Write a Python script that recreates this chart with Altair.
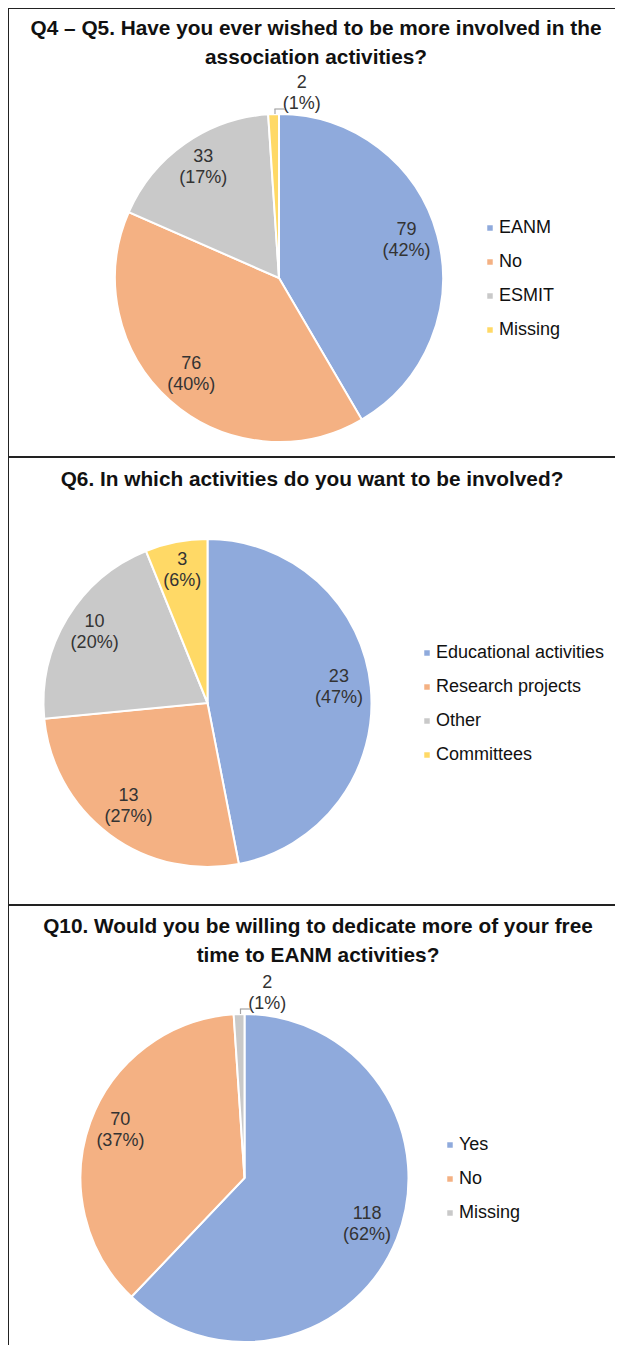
import altair as alt
import pandas as pd

# ---- data ----
titles = [
    ["Q4 – Q5. Have you ever wished to be more involved in the", "association activities?"],
    ["Q6. In which activities do you want to be involved?"],
    ["Q10. Would you be willing to dedicate more of your free", "time to EANM activities?"],
]
cats1 = ["EANM", "No", "ESMIT", "Missing"]
vals1 = [79, 76, 33, 2]
cats2 = ["Educational activities", "Research projects", "Other", "Committees"]
vals2 = [23, 13, 10, 3]
cats3 = ["Yes", "No", "Missing"]
vals3 = [118, 70, 2]

colors1 = ["#8FAADC", "#F4B183", "#C9C9C9", "#FFD966"]
colors2 = ["#8FAADC", "#F4B183", "#C9C9C9", "#FFD966"]
colors3 = ["#8FAADC", "#F4B183", "#C9C9C9"]

FONT = "Liberation Sans"
W = 607
H = 1337
R = 164
PANEL_TOPS = [0, 449, 897]


def pie(cats, vals, colors, cx, cy, lx, ly, key):
    total = sum(vals)
    pct = [round(v / total * 100) for v in vals]
    df = pd.DataFrame({
        key: cats,
        "val": vals,
        "idx": list(range(len(cats))),
        "label": [f"{v}\n({p}%)" for v, p in zip(vals, pct)],
        "small": [v / total < 0.03 for v in vals],
    })
    base = alt.Chart(df).encode(
        theta=alt.Theta("val:Q", stack=True),
        order=alt.Order("idx:Q"),
        x=alt.value(cx),
        y=alt.value(cy),
    )
    arcs = base.mark_arc(outerRadius=R, stroke="white", strokeWidth=2).encode(
        color=alt.Color(
            f"{key}:N",
            sort=cats,
            scale=alt.Scale(domain=cats, range=colors),
            legend=alt.Legend(
                title=None,
                orient="none",
                legendX=lx,
                legendY=ly,
                symbolType="square",
                symbolSize=30,
                symbolStrokeWidth=0,
                labelFont=FONT,
                labelFontSize=18,
                labelColor="#111",
                labelOffset=0,
                labelLimit=400,
                rowPadding=16,
                padding=0,
            ),
        )
    )
    inner = base.mark_text(
        font=FONT, fontSize=18, lineBreak="\n", lineHeight=21, color="#333",
        baseline="middle", align="center", dy=-13, radius=132,
    ).encode(text="label:N", opacity=alt.condition("datum.small", alt.value(0), alt.value(1)))
    outer = base.mark_text(
        font=FONT, fontSize=18, lineBreak="\n", lineHeight=21, color="#333",
        baseline="middle", align="center", dy=-8, dx=29, radius=187,
    ).encode(text="label:N", opacity=alt.condition("datum.small", alt.value(1), alt.value(0)))
    # small leader line to the outside label
    lead_df = pd.DataFrame({"k": [key]})
    lead_v = alt.Chart(lead_df).mark_rule(color="#A6A6A6", strokeWidth=1.2).encode(
        x=alt.value(cx - 4), x2=alt.value(cx - 4), y=alt.value(cy - R), y2=alt.value(cy - R - 5)
    )
    lead_h = alt.Chart(lead_df).mark_rule(color="#A6A6A6", strokeWidth=1.2).encode(
        x=alt.value(cx - 4.6), x2=alt.value(cx + 6), y=alt.value(cy - R - 5), y2=alt.value(cy - R - 5)
    )
    layers = [arcs, inner, outer]
    if any(df["small"]):
        layers += [lead_v, lead_h]
    return alt.layer(*layers)


def title_layer(lines, tx, ty):
    layers = []
    for i, line in enumerate(lines):
        layers.append(
            alt.Chart(pd.DataFrame({"t": [line]})).mark_text(
                font=FONT, fontSize=20.8, fontWeight="bold", color="#111",
                baseline="middle", align="center", dy=i * 28.5,
            ).encode(text="t:N", x=alt.value(tx), y=alt.value(ty))
        )
    return layers


pie1 = pie(cats1, vals1, colors1, 271, 270, 473, 211, "q5")
pie2 = pie(cats2, vals2, colors2, 199.5, 449 + 246, 410, 449 + 187, "q6")
pie3 = pie(cats3, vals3, colors3, 236.5, 897 + 273, 433, 897 + 231, "q10")

t1 = title_layer(titles[0], 308, 21)
t2 = title_layer(titles[1], 304, 449 + 23)
t3 = title_layer(titles[2], 310, 897 + 22)

hborders = [
    alt.Chart(pd.DataFrame({"b": [i]})).mark_rule(color="#222", strokeWidth=2).encode(
        x=alt.value(0), x2=alt.value(W + 10), y=alt.value(t), y2=alt.value(t)
    )
    for i, t in enumerate(PANEL_TOPS)
]
vborder = alt.Chart(pd.DataFrame({"b": [0]})).mark_rule(color="#222", strokeWidth=2).encode(
    x=alt.value(0), x2=alt.value(0), y=alt.value(0), y2=alt.value(H)
)

chart = (
    alt.layer(pie1, pie2, pie3, *t1, *t2, *t3, *hborders, vborder)
    .resolve_scale(color="independent", theta="independent")
    .resolve_legend(color="independent")
    .properties(
        width=W,
        height=H,
        padding=0,
        background="white",
        autosize=alt.AutoSizeParams(type="none"),
    )
    .configure_view(stroke=None)
)

chart.save("out.html", embed_options={"renderer": "svg", "actions": False})
